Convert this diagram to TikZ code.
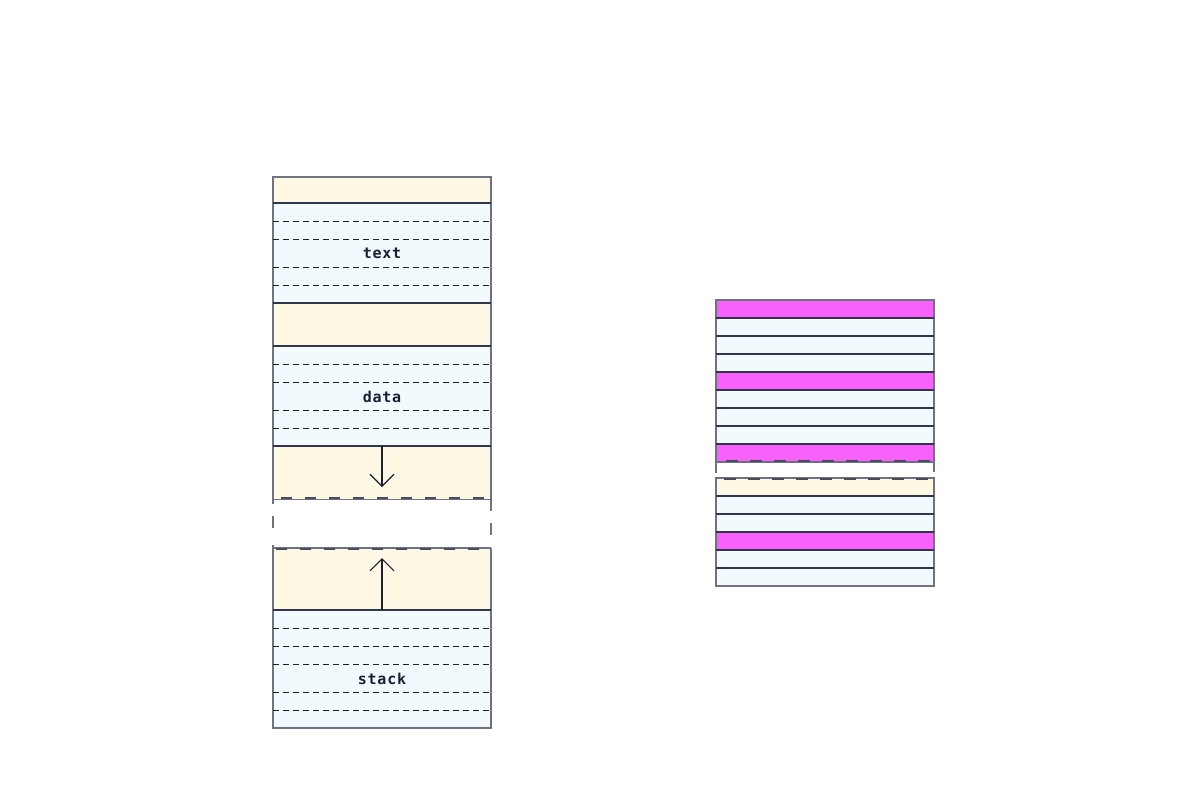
\documentclass[tikz,border=0pt]{standalone}
\usepackage{fontspec}
\newfontfamily\monofont[LetterSpace=5,BoldFont={DejaVu Sans Mono Bold}]{DejaVu Sans Mono}
\usetikzlibrary{arrows.meta}
\definecolor{ylw}{HTML}{FEF8E5}
\definecolor{blu}{HTML}{F2FAFE}
\definecolor{mag}{HTML}{F962FA}
\definecolor{navy}{HTML}{1A1F36}
\definecolor{edge}{HTML}{6E7282}
\definecolor{sep}{HTML}{2F374C}
\definecolor{gapdash}{HTML}{4A4D5E}
\tikzset{
  solidsep/.style={draw=sep, line width=1.3pt},
  dsep/.style={draw=navy, line width=1pt, dash pattern=on 6pt off 4pt},
  gapline/.style={draw=gapdash, line width=2pt, dash pattern=on 11pt off 13pt},
  sideline/.style={draw=edge, line width=1.3pt},
  lbl/.style={font=\monofont\bfseries\fontsize{15}{17}\selectfont, text=navy, inner sep=0pt},
  growarrow/.style={draw=navy, line width=1.1pt, -{Straight Barb[length=12pt,width=24pt,line width=1.1pt]}}
}
\begin{document}
\begin{tikzpicture}[x=1pt,y=-1pt]
\useasboundingbox (0,0) rectangle (1200,800);
% ---------- left column ----------
\fill[ylw] (273,177) rectangle (491,203);
\fill[blu] (273,203) rectangle (491,303);
\fill[ylw] (273,303) rectangle (491,346);
\fill[blu] (273,346) rectangle (491,446);
\fill[ylw] (273,446) rectangle (491,499);
\fill[ylw] (273,548) rectangle (491,610);
\fill[blu] (273,610) rectangle (491,728);
% outer borders
\draw[sideline] (273,499) -- (273,177) -- (491,177) -- (491,499);
\draw[sideline] (273,548) -- (273,728) -- (491,728) -- (491,548);
\draw[sideline] (273,499.5) -- (491,499.5);
\draw[sideline] (273,548) -- (491,548);
% gap side dashes
\draw[sideline] (273,499) -- (273,504) (273,516) -- (273,528) (273,545) -- (273,548);
\draw[sideline] (491,499) -- (491,511) (491,523) -- (491,535);
% gap dashed lines
\draw[gapline] (281,498) -- (491,498);
\draw[gapline] (276,549) -- (491,549);
% solid separators
\foreach \y in {203,303,346,446,610} \draw[solidsep] (273,\y) -- (491,\y);
% dashed separators
\foreach \y in {221,239,267,285,364,382,410,428,628,646,664,692,710}
  \draw[dsep] (273,\y) -- (491,\y);
% labels
\node[lbl] (ltext) at (382,253.5) {text};
\node[lbl] (ldata) at (382,396.5) {data};
\node[lbl] (lstack) at (382,678.5) {stack};
% arrows
\coordinate (heaptop) at (382,446);
\coordinate (heapend) at (382,487);
\coordinate (stacktop) at (382,610);
\coordinate (stackend) at (382,558);
\draw[growarrow] (heaptop) -- (heapend);
\draw[growarrow] (stacktop) -- (stackend);
% ---------- right column ----------
\foreach \y/\c in {300/mag,318/blu,336/blu,354/blu,372/mag,390/blu,408/blu,426/blu,444/mag,
                   478/ylw,496/blu,514/blu,532/mag,550/blu,568/blu}
  \fill[\c] (716,\y) rectangle (934,\y+18);
\draw[sideline] (716,473) -- (716,300) -- (934,300) -- (934,472);
\draw[sideline] (716,462) -- (934,462);
\draw[sideline] (716,478) -- (716,586) -- (934,586) -- (934,478) -- cycle;
\foreach \y in {318,336,354,372,390,408,426,444,496,514,532,550,568}
  \draw[solidsep] (716,\y) -- (934,\y);
\draw[gapline, dash pattern=on 12pt off 12pt] (726,460.5) -- (934,460.5);
\draw[gapline, dash pattern=on 12pt off 12pt] (724,478.5) -- (934,478.5);
\end{tikzpicture}
\end{document}
